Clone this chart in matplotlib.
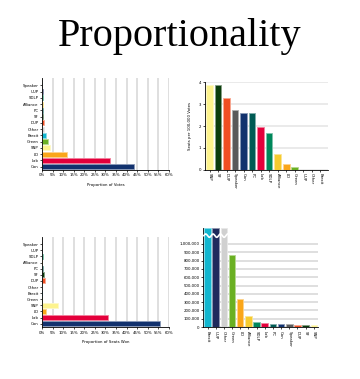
import numpy as np
import matplotlib
matplotlib.use("Agg")
import matplotlib.pyplot as plt
from matplotlib.colors import to_rgb
from matplotlib.ticker import FuncFormatter

# Party colours
party_colors = {
    "Con": "#12326e", "Lab": "#e4003b", "LD": "#faa61a", "SNP": "#fdf38e",
    "Green": "#6ab023", "Brexit": "#12b6cf", "Other": "#d0d0d0", "DUP": "#f04e23",
    "SF": "#0b3d0b", "PC": "#005b54", "Alliance": "#f6cb2f", "SDLP": "#00875a",
    "UUP": "#1f2a5c", "Speaker": "#5a5a5a",
}

# Horizontal bar charts (bottom to top)
share_parties = ["Con", "Lab", "LD", "SNP", "Green", "Brexit", "Other",
                 "DUP", "SF", "PC", "Alliance", "SDLP", "UUP", "Speaker"]
vote_share = [43.6, 32.1, 11.6, 3.9, 2.7, 2.0, 1.0, 0.8, 0.6, 0.5, 0.4, 0.4, 0.3, 0.1]
seat_share = [56.0, 31.1, 1.7, 7.4, 0.15, 0.0, 0.0, 1.2, 1.1, 0.6, 0.15, 0.3, 0.0, 0.15]
pct_ticks = [0, 5, 10, 15, 20, 25, 30, 35, 40, 45, 50, 55, 60]

# Seats per 100,000 votes
spv_parties = ["SNP", "SF", "DUP", "Speaker", "Con", "PC", "Lab", "SDLP",
               "Alliance", "LD", "Green", "UUP", "Other", "Brexit"]
seats_per_100k = [3.85, 3.85, 3.28, 2.75, 2.61, 2.61, 1.96, 1.68, 0.74, 0.29, 0.12, 0, 0, 0]

# Votes per seat (None = no seats won, bar broken off)
vps_parties = ["Brexit", "UUP", "Other", "Green", "LD", "Alliance", "SDLP", "Lab",
               "PC", "Con", "Speaker", "DUP", "SF", "SNP"]
votes_per_seat = [None, None, None, 865000, 333000, 134000, 60000, 50000,
                  38000, 38000, 36000, 30000, 26000, 24000]

TICK_FS = 2.8


def lighter(c, f=0.5):
    r, g, b = to_rgb(c)
    return (r + (1 - r) * f, g + (1 - g) * f, b + (1 - b) * f)


def style_axes(ax):
    for side in ["top", "right"]:
        ax.spines[side].set_visible(False)
    for side in ["left", "bottom"]:
        ax.spines[side].set_linewidth(0.6)
    ax.tick_params(axis="both", length=1.5, width=0.5, pad=1, labelsize=TICK_FS)
    ax.set_axisbelow(True)


def hbar_panel(ax, values, xlabel):
    y = np.arange(len(share_parties))
    cols = [party_colors[p] for p in share_parties]
    ax.barh(y, values, height=0.8, color=cols,
            edgecolor=[lighter(c) for c in cols], linewidth=0.6)
    ax.set_yticks(y)
    ax.set_yticklabels(share_parties)
    ax.set_xticks(pct_ticks)
    ax.xaxis.set_major_formatter(FuncFormatter(lambda v, p: f"{v:.0f}%"))
    ax.set_xlim(0, 60)
    ax.set_ylim(-0.55, 14.2)
    ax.grid(True, axis="x", color="#dcdcdc", linewidth=1.3)
    ax.set_xlabel(xlabel, fontsize=TICK_FS, labelpad=4)
    style_axes(ax)


fig = plt.figure(figsize=(3.6, 3.79), dpi=100)
fig.text(0.5, 0.905, "Proportionality", ha="center", va="center",
         fontsize=29, family="Liberation Serif")

# Top-left: proportion of votes
ax1 = fig.add_axes([0.117, 0.5515, 0.352, 0.243])
hbar_panel(ax1, vote_share, "Proportion of Votes")

# Bottom-left: proportion of seats
ax3 = fig.add_axes([0.117, 0.137, 0.352, 0.238])
hbar_panel(ax3, seat_share, "Proportion of Seats Won")

# Top-right: seats per 100,000 votes
ax2 = fig.add_axes([0.569, 0.5515, 0.342, 0.232])
x = np.arange(len(spv_parties))
cols = [party_colors[p] for p in spv_parties]
ax2.bar(x, seats_per_100k, width=0.78, color=cols,
        edgecolor=[lighter(c) for c in cols], linewidth=0.6)
ax2.set_xticks(x)
ax2.set_xticklabels(spv_parties, rotation=-90)
ax2.set_yticks([0, 1, 2, 3, 4])
ax2.set_ylim(0, 4)
ax2.set_xlim(-0.55, 13.9)
ax2.grid(True, axis="y", color="#e8e8e8", linewidth=1.3)
ax2.set_ylabel("Seats per 100,000 Votes", fontsize=TICK_FS, labelpad=5)
style_axes(ax2)

# Bottom-right: votes per seat
ax4 = fig.add_axes([0.564, 0.137, 0.319, 0.261])
ymax = 1190000
x = np.arange(len(vps_parties))
cols = [party_colors[p] for p in vps_parties]
heights = [ymax if v is None else v for v in votes_per_seat]
ax4.bar(x, heights, width=0.8, color=cols,
        edgecolor=[lighter(c) for c in cols], linewidth=0.6)
broken = [i for i, v in enumerate(votes_per_seat) if v is None]
if broken:
    wx = np.linspace(min(broken) - 0.45, max(broken) + 0.45, 300)
    wy = 1100000 + 20000 * np.sin((wx - wx[0]) * 2 * np.pi / 0.9)
    ax4.plot(wx, wy, color="white", linewidth=1.2, zorder=5)
ax4.set_xticks(x)
ax4.set_xticklabels(vps_parties, rotation=-90)
ax4.set_yticks(np.arange(0, 1000001, 100000))
ax4.yaxis.set_major_formatter(FuncFormatter(lambda v, p: f"{v:,.0f}"))
ax4.set_ylim(0, ymax)
ax4.set_xlim(-0.55, 13.5)
ax4.grid(True, axis="y", color="#dcdcdc", linewidth=1.3)
style_axes(ax4)

fig.savefig("out.png", dpi=100, facecolor="white")
